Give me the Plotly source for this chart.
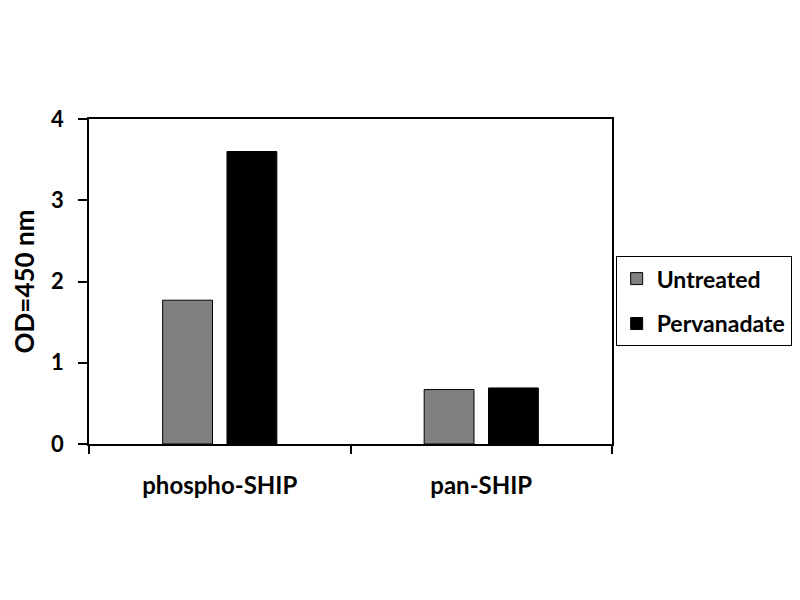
import plotly.graph_objects as go

categories = ["phospho-SHIP", "pan-SHIP"]
untreated = [1.77, 0.67]
pervanadate = [3.60, 0.69]
y_ticks = [0, 1, 2, 3, 4]

FONT = "Lato"

fig = go.Figure()
fig.add_trace(go.Bar(x=categories, y=untreated, name="Untreated",
                     marker=dict(color="#808080", line=dict(color="#000000", width=1)),
                     legendgroup="a"))
fig.add_trace(go.Bar(x=categories, y=pervanadate, name="Pervanadate",
                     marker=dict(color="#000000", line=dict(color="#000000", width=1)),
                     legendgroup="b"))

fig.update_layout(
    width=800, height=600,
    paper_bgcolor="white", plot_bgcolor="white",
    margin=dict(l=81, r=196, t=111, b=164, autoexpand=False),
    barmode="group", bargap=0.508, bargroupgap=0.225,
    font=dict(family=FONT, color="#000000"),
    showlegend=True,
    legend=dict(
        x=1.007, y=0.578, xanchor="left", yanchor="top",
        bordercolor="#000000", borderwidth=1,
        font=dict(family=FONT, size=23, color="#000000", weight="bold"),
        traceorder="grouped", tracegroupgap=12,
        itemwidth=30,
    ),
    xaxis=dict(
        showline=True, linecolor="#000000", linewidth=1.5, mirror=True,
        ticks="outside", ticklen=8, tickcolor="#000000", tickwidth=1.5,
        tickson="boundaries", ticklabelstandoff=19,
        tickfont=dict(family=FONT, size=24, color="#000000", weight="bold"),
        showgrid=False,
    ),
    yaxis=dict(
        range=[0, 4], tickvals=y_ticks,
        showline=True, linecolor="#000000", linewidth=1.5, mirror=True,
        ticks="outside", ticklen=9, tickcolor="#000000", tickwidth=1.5,
        ticklabelstandoff=10,
        tickfont=dict(family=FONT, size=22, color="#000000", weight="bold"),
        showgrid=False, zeroline=False,
        title=dict(text="OD=450 nm", standoff=24,
                   font=dict(family=FONT, size=26, color="#000000", weight="bold")),
    ),
)

fig.write_html("out.html")
